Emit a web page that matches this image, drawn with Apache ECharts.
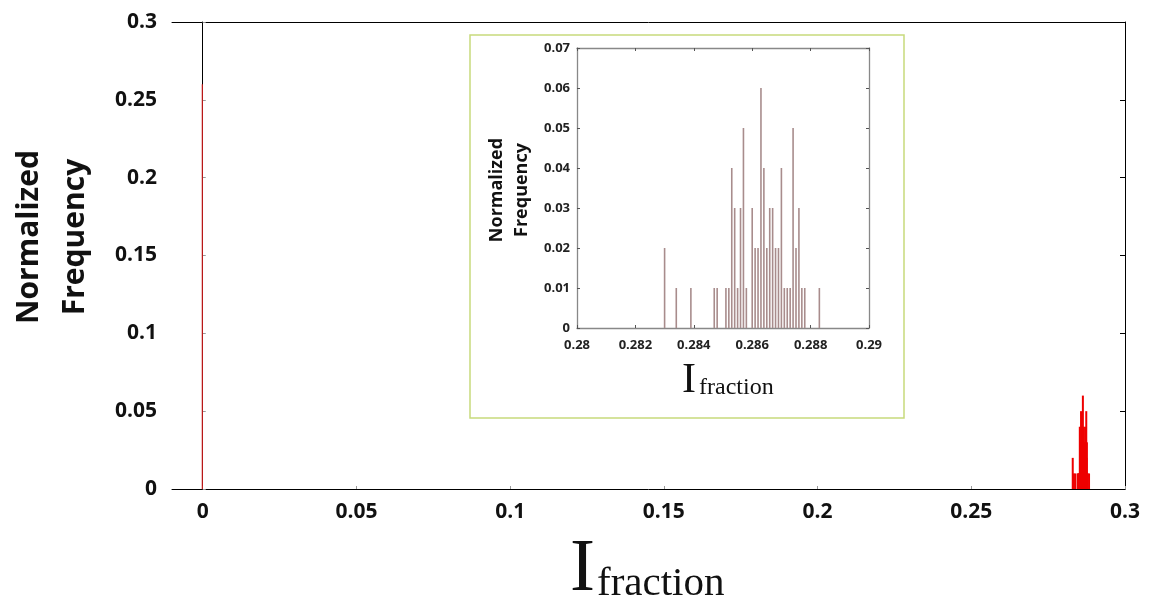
<!DOCTYPE html>
<html>
<head>
<meta charset="utf-8">
<script src="https://cdn.jsdelivr.net/npm/echarts@6/dist/echarts.min.js"></script>
<style>
html,body{margin:0;padding:0;background:#fff;}
#c{width:1155px;height:608px;}
</style>
</head>
<body>
<div id="c"></div>
<script>
// ---- data ----
const mainXTicks = [0, 0.05, 0.1, 0.15, 0.2, 0.25, 0.3];
const zeroBinX = [0];
const zeroBinY = [0.26];
const insetX = [0.2830, 0.2834, 0.2839, 0.2847, 0.2848, 0.2851, 0.2852, 0.2853, 0.2854, 0.2855,
                0.2856, 0.2857, 0.2858, 0.2860, 0.2861, 0.2862, 0.2863, 0.2864, 0.2865, 0.2866,
                0.2867, 0.2868, 0.2869, 0.2870, 0.2871, 0.2872, 0.2873, 0.2874, 0.2875, 0.2876,
                0.2877, 0.2878, 0.2883];
const insetY = [0.02, 0.01, 0.01, 0.01, 0.01, 0.01, 0.01, 0.04, 0.03, 0.01,
                0.03, 0.05, 0.01, 0.03, 0.02, 0.02, 0.06, 0.04, 0.02, 0.03,
                0.03, 0.02, 0.02, 0.04, 0.01, 0.01, 0.01, 0.05, 0.02, 0.03,
                0.01, 0.01, 0.01];

const zeroData = zeroBinX.map((x, i) => [x, zeroBinY[i]]);
const clusterData = insetX.map((x, i) => [x, insetY[i]]);

const chart = echarts.init(document.getElementById('c'), null, {renderer: 'canvas'});
const labFont = '"Open Sans", "DejaVu Sans", sans-serif';
const serif = '"Liberation Serif", "DejaVu Serif", serif';

const option = {
  backgroundColor: '#fff',
  animation: false,
  grid: [
    {left: 172, top: 22, width: 953, height: 467, show: false},
    {left: 577, top: 48, width: 292, height: 280, show: false}
  ],
  xAxis: [
    {
      gridIndex: 0, type: 'value', min: -0.01, max: 0.3,
      axisLine: {show: true, lineStyle: {color: '#000', width: 1}},
      axisTick: {show: true, inside: true, length: 3, customValues: mainXTicks, lineStyle: {color: '#999'}},
      axisLabel: {show: true, customValues: mainXTicks, margin: 13, color: '#111',
                  fontFamily: labFont, fontWeight: 'bold', fontSize: 21},
      splitLine: {show: false}
    },
    {
      gridIndex: 0, type: 'value', position: 'top', min: -0.01, max: 0.3,
      axisLine: {show: true, onZero: false, lineStyle: {color: '#000', width: 1}},
      axisTick: {show: false}, axisLabel: {show: false}, splitLine: {show: false}
    },
    {
      gridIndex: 1, type: 'value', min: 0.28, max: 0.29, interval: 0.002,
      axisLine: {show: true, onZero: false, lineStyle: {color: '#888', width: 1.3}},
      axisTick: {show: true, inside: true, length: 3, lineStyle: {color: '#555'}},
      axisLabel: {show: true, margin: 11, color: '#222', fontFamily: labFont, fontWeight: 'bold', fontSize: 13,
                  formatter: v => String(+v.toFixed(3))},
      splitLine: {show: false}
    },
    {
      gridIndex: 1, type: 'value', position: 'top', min: 0.28, max: 0.29, interval: 0.002,
      axisLine: {show: true, onZero: false, lineStyle: {color: '#888', width: 1.3}},
      axisTick: {show: true, inside: true, length: 3, lineStyle: {color: '#555'}},
      axisLabel: {show: false}, splitLine: {show: false}
    }
  ],
  yAxis: [
    {
      gridIndex: 0, type: 'value', min: 0, max: 0.3, interval: 0.05,
      axisLine: {show: true, lineStyle: {color: '#000', width: 1}},
      axisTick: {show: true, inside: true, length: 3, lineStyle: {color: '#999'}},
      axisLabel: {show: true, margin: 15, color: '#111', fontFamily: labFont, fontWeight: 'bold', fontSize: 21},
      splitLine: {show: false}
    },
    {
      gridIndex: 0, type: 'value', position: 'right', min: 0, max: 0.3, interval: 0.05,
      axisLine: {show: true, onZero: false, lineStyle: {color: '#000', width: 1}},
      axisTick: {show: true, inside: true, length: 5, lineStyle: {color: '#000'}},
      axisLabel: {show: false}, splitLine: {show: false}
    },
    {
      gridIndex: 1, type: 'value', min: 0, max: 0.07, interval: 0.01,
      axisLine: {show: true, onZero: false, lineStyle: {color: '#888', width: 1.3}},
      axisTick: {show: true, inside: true, length: 3, lineStyle: {color: '#555'}},
      axisLabel: {show: true, margin: 7, color: '#222', fontFamily: labFont, fontWeight: 'bold', fontSize: 13,
                  formatter: v => String(+v.toFixed(2))},
      splitLine: {show: false}
    },
    {
      gridIndex: 1, type: 'value', position: 'right', min: 0, max: 0.07, interval: 0.01,
      axisLine: {show: true, onZero: false, lineStyle: {color: '#888', width: 1.3}},
      axisTick: {show: true, inside: true, length: 3, lineStyle: {color: '#555'}},
      axisLabel: {show: false}, splitLine: {show: false}
    }
  ],
  series: [
    {
      type: 'bar', xAxisIndex: 0, yAxisIndex: 0, data: zeroData,
      barWidth: 1.2, itemStyle: {color: '#c41a1a'}, z: 3
    },
    {
      type: 'bar', xAxisIndex: 0, yAxisIndex: 0, data: clusterData,
      barWidth: 2, barGap: '-100%', itemStyle: {color: '#ee0000'}, z: 3
    },
    {
      type: 'bar', xAxisIndex: 2, yAxisIndex: 2, data: clusterData,
      barWidth: 1.6, itemStyle: {color: '#a88c8c'}, z: 3
    }
  ],
  graphic: [
    {type: 'rect', shape: {x: 470, y: 35, width: 434, height: 383}, z: -10,
     style: {fill: '#fff', stroke: '#c8da7c', lineWidth: 1.5}},
    {type: 'text', x: 52, y: 237, rotation: Math.PI / 2, z: 10,
     style: {text: 'Normalized\nFrequency', textAlign: 'center', verticalAlign: 'middle',
             font: 'bold 30px "Open Sans", sans-serif', lineHeight: 46, fill: '#111'}},
    {type: 'text', x: 570, y: 570, z: 10,
     style: {text: 'I', textAlign: 'left', verticalAlign: 'middle', font: '75px ' + serif, fill: '#111'}},
    {type: 'text', x: 597, y: 584, z: 10,
     style: {text: 'fraction', textAlign: 'left', verticalAlign: 'middle', font: '41px ' + serif, fill: '#111'}},
    {type: 'text', x: 509, y: 190, rotation: Math.PI / 2, z: 10,
     style: {text: 'Normalized\nFrequency', textAlign: 'center', verticalAlign: 'middle',
             font: 'bold 18px "Open Sans", sans-serif', lineHeight: 25, fill: '#111'}},
    {type: 'text', x: 682, y: 381, z: 10,
     style: {text: 'I', textAlign: 'left', verticalAlign: 'middle', font: '42px ' + serif, fill: '#111'}},
    {type: 'text', x: 699, y: 388, z: 10,
     style: {text: 'fraction', textAlign: 'left', verticalAlign: 'middle', font: '24px ' + serif, fill: '#111'}}
  ]
};
chart.setOption(option);
</script>
</body>
</html>
